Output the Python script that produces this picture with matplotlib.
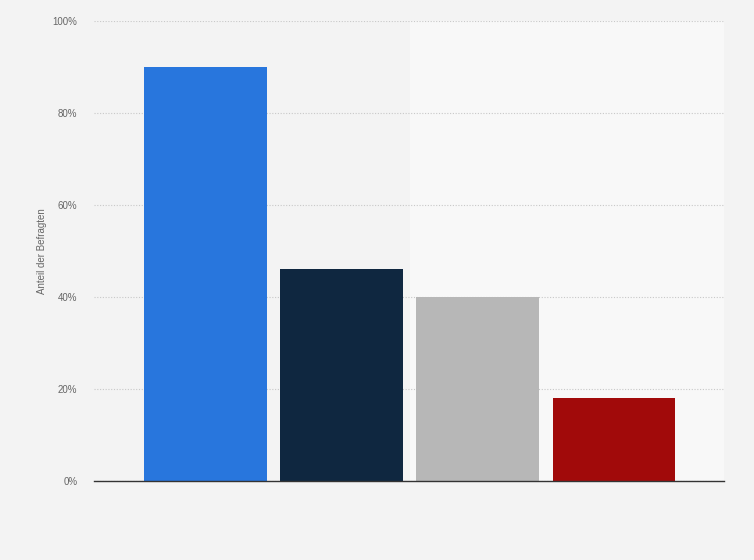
import numpy as np
import matplotlib
matplotlib.use("Agg")
from matplotlib import pyplot as plt

plt.rcParams['font.family'] = ['Liberation Sans', 'DejaVu Sans']

# Werte
categories = ["A", "B", "C", "D"]
values = [90, 46, 40, 18]
colors = ["#2876dd", "#0f2740", "#b7b7b7", "#a10a0a"]
yticks = [0, 20, 40, 60, 80, 100]
ytick_labels = ["0%", "20%", "40%", "60%", "80%", "100%"]

fig = plt.figure(figsize=(7.54, 5.6), dpi=100)
fig.patch.set_facecolor("#f3f3f3")
ax = fig.add_axes([94/754, 1 - 481/560, 630/754, 460/560])
ax.set_facecolor("#f3f3f3")

x = np.arange(len(categories))
ax.set_xlim(-0.82, 3.81)
ax.set_ylim(0, 100)
ax.axvspan(1.5, 3.81, color="#f8f8f8", zorder=0)

ax.set_yticks(yticks)
ax.set_yticklabels(ytick_labels)
ax.yaxis.grid(True, color="#c8c8c8", linestyle=(0, (1, 1.5)), linewidth=0.8)
ax.set_axisbelow(True)

ax.bar(x, values, width=0.9, color=colors, zorder=3)

ax.set_xticks([])
for s in ["top", "right", "left"]:
    ax.spines[s].set_visible(False)
ax.spines["bottom"].set_color("#333333")
ax.spines["bottom"].set_linewidth(1.0)
ax.spines["bottom"].set_zorder(4)
ax.tick_params(axis="y", length=0, labelsize=7, labelcolor="#666666", pad=12)

ax.set_ylabel("Anteil der Befragten", fontsize=7, color="#666666", labelpad=4)

fig.savefig("out.png", dpi=100, facecolor=fig.get_facecolor())
